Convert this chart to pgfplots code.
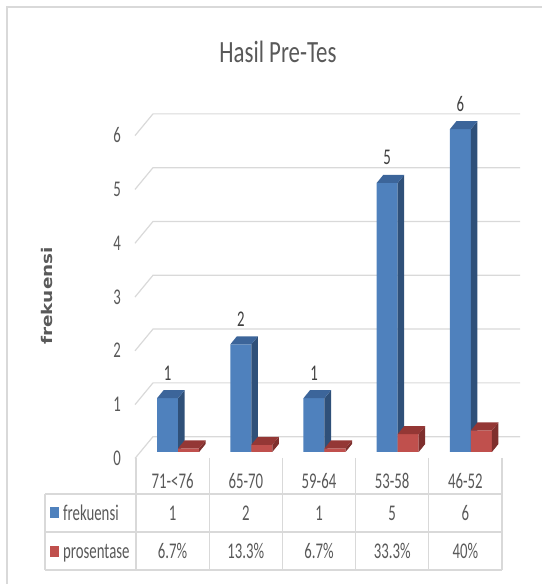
\documentclass[border=0pt]{standalone}
\usepackage{pgfplots}
\pgfplotsset{compat=1.18}
\usepackage{fontspec}
\setmainfont{Carlito}[FakeStretch=0.66]
\newfontfamily\titlefont{Carlito}[FakeStretch=0.74]
\newfontfamily\ytfont{DejaVu Sans}
\definecolor{gridc}{HTML}{D9D9D9}
\definecolor{txt}{HTML}{595959}
\definecolor{lbl}{HTML}{404040}
\definecolor{bfront}{HTML}{4F81BD}
\definecolor{bside}{HTML}{2F5079}
\definecolor{btop}{HTML}{3C659A}
\definecolor{rfront}{HTML}{C0504D}
\definecolor{rside}{HTML}{7E2F2D}
\definecolor{rtop}{HTML}{943735}
\pgfplotsset{/pgf/number format/assume math mode=true}
\begin{document}
\begin{tikzpicture}
\begin{axis}[at={(136bp,132bp)}, anchor=south west, scale only axis,
  width=366bp, height=322.8bp,
  xmin=-0.5, xmax=4.5, ymin=0, ymax=6, clip=false,
  axis line style={draw=none}, major tick length=0, tick style={draw=none},
  ytick={0,1,2,3,4,5,6}, xtick={0,1,2,3,4},
  xticklabels={71-<76,65-70,59-64,53-58,46-52},
  tick label style={font=\fontsize{22.5}{25}\selectfont, text=txt},
  yticklabel style={anchor=base, xshift=-19bp, yshift=-13.5bp},
  xticklabel style={anchor=base, yshift=-37bp},
  face/.style={draw=none, forget plot},
  gl/.style={gridc, line width=1.2bp, forget plot}]
% grid lines (back wall + floor slant)
\addplot[gl] coordinates {(-0.514,-0.12) (-0.268,0.285) (4.746,0.285)};
\addplot[gl] coordinates {(-0.514,0.88) (-0.268,1.285) (4.746,1.285)};
\addplot[gl] coordinates {(-0.514,1.88) (-0.268,2.285) (4.746,2.285)};
\addplot[gl] coordinates {(-0.514,2.88) (-0.268,3.285) (4.746,3.285)};
\addplot[gl] coordinates {(-0.514,3.88) (-0.268,4.285) (4.746,4.285)};
\addplot[gl] coordinates {(-0.514,4.88) (-0.268,5.285) (4.746,5.285)};
\addplot[gl] coordinates {(-0.514,5.88) (-0.268,6.285) (4.746,6.285)};
% frekuensi: front faces
\addplot[ybar, bar width=0.287, bar shift=-0.0685, fill=bfront, draw=none,
  nodes near coords, nodes near coords style={anchor=base, xshift=-5bp, yshift=18bp, text=lbl, font=\fontsize{22.5}{25}\selectfont}]
  coordinates {(0,1) (1,2) (2,1) (3,5) (4,6)};
% frekuensi: side faces
\addplot[face, fill=bside] coordinates {(0.075,0) (0.075,1) (0.164,1.149) (0.164,0.149)};
\addplot[face, fill=bside] coordinates {(1.075,0) (1.075,2) (1.164,2.149) (1.164,0.149)};
\addplot[face, fill=bside] coordinates {(2.075,0) (2.075,1) (2.164,1.149) (2.164,0.149)};
\addplot[face, fill=bside] coordinates {(3.075,0) (3.075,5) (3.164,5.149) (3.164,0.149)};
\addplot[face, fill=bside] coordinates {(4.075,0) (4.075,6) (4.164,6.149) (4.164,0.149)};
% frekuensi: top faces
\addplot[face, fill=btop] coordinates {(-0.212,1) (0.075,1) (0.164,1.149) (-0.123,1.149)};
\addplot[face, fill=btop] coordinates {(0.788,2) (1.075,2) (1.164,2.149) (0.877,2.149)};
\addplot[face, fill=btop] coordinates {(1.788,1) (2.075,1) (2.164,1.149) (1.877,1.149)};
\addplot[face, fill=btop] coordinates {(2.788,5) (3.075,5) (3.164,5.149) (2.877,5.149)};
\addplot[face, fill=btop] coordinates {(3.788,6) (4.075,6) (4.164,6.149) (3.877,6.149)};
% prosentase: front faces
\addplot[ybar, bar width=0.287, bar shift=0.2185, fill=rfront, draw=none]
  coordinates {(0,0.067) (1,0.133) (2,0.067) (3,0.333) (4,0.4)};
% prosentase: side faces
\addplot[face, fill=rside] coordinates {(0.362,0) (0.362,0.067) (0.451,0.216) (0.451,0.149)};
\addplot[face, fill=rside] coordinates {(1.362,0) (1.362,0.133) (1.451,0.282) (1.451,0.149)};
\addplot[face, fill=rside] coordinates {(2.362,0) (2.362,0.067) (2.451,0.216) (2.451,0.149)};
\addplot[face, fill=rside] coordinates {(3.362,0) (3.362,0.333) (3.451,0.482) (3.451,0.149)};
\addplot[face, fill=rside] coordinates {(4.362,0) (4.362,0.4) (4.451,0.549) (4.451,0.149)};
% prosentase: top faces
\addplot[face, fill=rtop] coordinates {(0.075,0.067) (0.362,0.067) (0.451,0.216) (0.164,0.216)};
\addplot[face, fill=rtop] coordinates {(1.075,0.133) (1.362,0.133) (1.451,0.282) (1.164,0.282)};
\addplot[face, fill=rtop] coordinates {(2.075,0.067) (2.362,0.067) (2.451,0.216) (2.164,0.216)};
\addplot[face, fill=rtop] coordinates {(3.075,0.333) (3.362,0.333) (3.451,0.482) (3.164,0.482)};
\addplot[face, fill=rtop] coordinates {(4.075,0.4) (4.362,0.4) (4.451,0.549) (4.164,0.549)};
\end{axis}
\begin{scope}[x=1bp, y=1bp]
\draw[gridc, line width=1.5bp] (7,0) -- (7,577) -- (542,577);
\node[txt, anchor=base] at (278,521) {\titlefont\fontsize{31}{34}\selectfont Hasil Pre-Tes};
% data table
\begin{scope}[gridc, line width=1.2bp]
\draw (45,90) -- (502,90);
\draw (45,52) -- (502,52);
\draw (45,14) -- (502,14);
\draw (45,90) -- (45,14);
\foreach \i in {0,...,5} { \draw (136+73.2*\i,126) -- (136+73.2*\i,14); }
\end{scope}
\begin{scope}[every node/.style={text=txt, font=\fontsize{22.5}{25}\selectfont}]
\foreach \v [count=\i from 0] in {1,2,1,5,6} { \node[anchor=base] at (172.6+73.2*\i,63) {\v}; }
\foreach \v [count=\i from 0] in {6.7\%,13.3\%,6.7\%,33.3\%,40\%} { \node[anchor=base] at (172.6+73.2*\i,25) {\v}; }
\node[anchor=base west, inner sep=0pt] at (63,63.5) {frekuensi};
\node[anchor=base west, inner sep=0pt] at (63,25.5) {prosentase};
\end{scope}
\fill[bfront] (50,66) rectangle (59,77);
\fill[rfront] (50,27) rectangle (59,38);
% y axis title
\node[rotate=90, text=txt] at (47,288) {\scalebox{1}[0.8]{\ytfont\bfseries\fontsize{18.5}{22}\selectfont frekuensi}};
\pgfresetboundingbox
\useasboundingbox (0,0) rectangle (542,584);
\end{scope}
\end{tikzpicture}
\end{document}
